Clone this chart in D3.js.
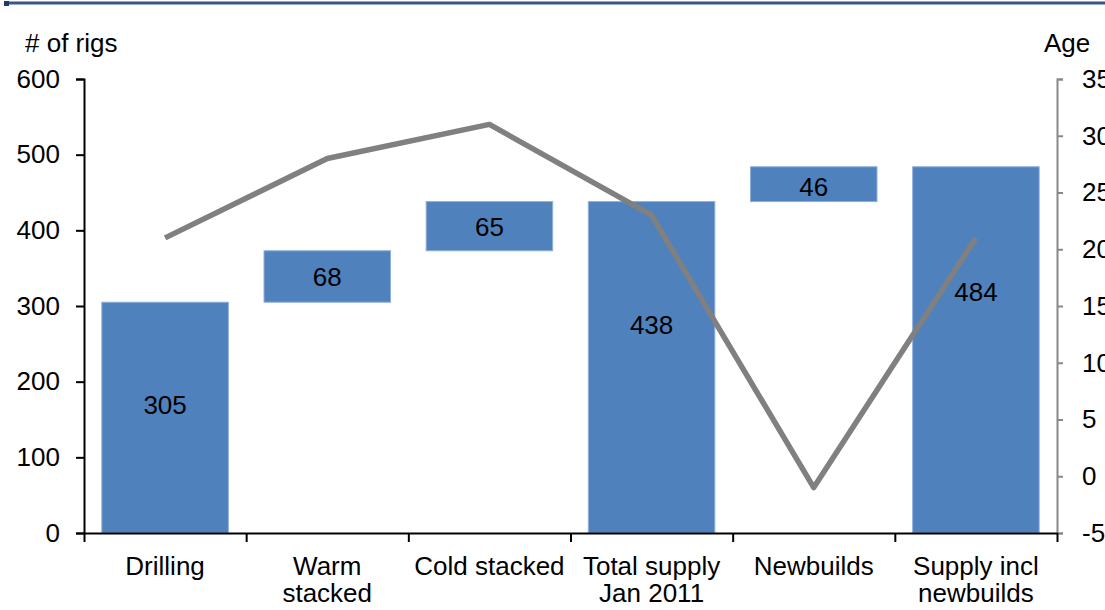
<html>
<head>
<script src="https://cdnjs.cloudflare.com/ajax/libs/d3/7.8.5/d3.min.js"></script>
  <meta charset="utf-8">
  <title>Rig supply</title>
  <style>
    body { margin: 0; background: #fff; }
    text { font-family: "Liberation Sans", Arial, sans-serif; }
  </style>
</head>
<body>
	<script type="text/javascript">

		// chart size
		var w = 1105;
		var h = 610;

		// data
		var categories = [["Drilling"], ["Warm", "stacked"], ["Cold stacked"], ["Total supply", "Jan 2011"], ["Newbuilds"], ["Supply incl", "newbuilds"]];
		var barStart = [0, 305, 373, 0, 438, 0];
		var barEnd = [305, 373, 438, 438, 484, 484];
		var barLabels = ["305", "68", "65", "438", "46", "484"];
		var labelAt = [169, 339, 405, 275, 458, 318];   // where the label sits, in # of rigs
		var age = [21, 28, 31, 23, -1, 21];
		var rigTicks = [0, 100, 200, 300, 400, 500, 600];
		var ageTicks = [-5, 0, 5, 10, 15, 20, 25, 30, 35];

		// plot edges (note: "top" is taken by window.top)
		var plotLeft = 84, plotRight = 1057, plotTop = 79, plotBottom = 533;
		var fontSize = 26;

		var svg = d3.select("body")
					.append("svg")
					.attr("width", w)
					.attr("height", h);

		// top rule
		svg.append("line")
			.attr("x1", 5).attr("x2", w)
			.attr("y1", 3).attr("y2", 3)
			.attr("stroke", "#3b5585")
			.attr("stroke-width", 3);
		svg.append("rect")
			.attr("x", 4).attr("y", 1).attr("width", 5).attr("height", 5)
			.attr("fill", "#1f3a6b");

		var idx = d3.range(categories.length);

		var x = d3.scaleBand()
			.domain(idx)
			.range([plotLeft, plotRight])
			.paddingInner(0.22)
			.paddingOuter(0.11);

		var xEdge = d3.scaleLinear()
			.domain([0, categories.length])
			.range([plotLeft, plotRight]);

		var y = d3.scaleLinear()
			.domain([0, 600])
			.range([plotBottom, plotTop]);

		var yR = d3.scaleLinear()
			.domain([-5, 35])
			.range([plotBottom, plotTop]);

		// bars
		svg.selectAll("rect.bar")
			.data(idx)
			.enter()
			.append("rect")
			.attr("class", "bar")
			.attr("x", function(i) { return x(i); })
			.attr("width", x.bandwidth())
			.attr("y", function(i) { return y(barEnd[i]); })
			.attr("height", function(i) { return y(barStart[i]) - y(barEnd[i]); })
			.attr("fill", "#4f81bd")
			.attr("stroke", "#8eaedb")
			.attr("stroke-width", 1);

		// left axis
		var yAxis = svg.append("g")
			.attr("transform", "translate(" + plotLeft + ",0)")
			.call(d3.axisLeft(y).tickValues(rigTicks).tickSize(8).tickSizeOuter(8).tickPadding(16));
		yAxis.selectAll("path, line").attr("stroke", "#000").attr("stroke-width", 2);
		yAxis.selectAll("text")
			.attr("font-size", fontSize)
			.attr("font-family", "Liberation Sans, Arial, sans-serif")
			.attr("fill", "#000");

		// right axis (plain hyphen for negatives, like the original)
		var rAxis = svg.append("g")
			.attr("transform", "translate(" + plotRight + ",0)")
			.call(d3.axisRight(yR).tickValues(ageTicks).tickSize(6).tickSizeOuter(6).tickPadding(19)
				.tickFormat(function(d) { return String(d); }));
		rAxis.selectAll("path, line").attr("stroke", "#888").attr("stroke-width", 2);
		rAxis.selectAll("text")
			.attr("font-size", fontSize)
			.attr("font-family", "Liberation Sans, Arial, sans-serif")
			.attr("fill", "#000");

		// bottom axis with category boundary ticks
		var xAxis = svg.append("g")
			.attr("transform", "translate(0," + plotBottom + ")")
			.call(d3.axisBottom(xEdge).tickValues(d3.range(categories.length + 1)).tickSize(9).tickSizeOuter(0).tickFormat(""));
		xAxis.selectAll("path, line").attr("stroke", "#000").attr("stroke-width", 2);

		// category labels
		svg.selectAll("text.cat")
			.data(idx)
			.enter()
			.append("text")
			.attr("class", "cat")
			.attr("x", function(i) { return x(i) + x.bandwidth() / 2; })
			.attr("y", plotBottom + 42)
			.attr("text-anchor", "middle")
			.attr("font-size", fontSize)
			.attr("fill", "#000")
			.each(function(i) {
				var t = d3.select(this);
				categories[i].forEach(function(s, k) {
					t.append("tspan")
						.attr("x", x(i) + x.bandwidth() / 2)
						.attr("dy", k == 0 ? 0 : 27)
						.text(s);
				});
			});

		// age line
		var line = d3.line()
			.x(function(i) { return x(i) + x.bandwidth() / 2; })
			.y(function(i) { return yR(age[i]); });

		svg.append("path")
			.datum(idx)
			.attr("d", line)
			.attr("fill", "none")
			.attr("stroke", "#808080")
			.attr("stroke-width", 5.5)
			.attr("stroke-linejoin", "round");

		// bar labels
		svg.selectAll("text.val")
			.data(idx)
			.enter()
			.append("text")
			.attr("class", "val")
			.attr("x", function(i) { return x(i) + x.bandwidth() / 2; })
			.attr("y", function(i) { return y(labelAt[i]); })
			.attr("dy", "0.35em")
			.attr("text-anchor", "middle")
			.attr("font-size", fontSize)
			.attr("fill", "#000")
			.text(function(i) { return barLabels[i]; });

		// axis titles
		svg.append("text")
			.attr("x", 25).attr("y", 52)
			.attr("font-size", fontSize)
			.attr("fill", "#000")
			.text("# of rigs");

		svg.append("text")
			.attr("x", 1044).attr("y", 52)
			.attr("font-size", fontSize)
			.attr("fill", "#000")
			.text("Age");
	</script>
</body>
</html>
